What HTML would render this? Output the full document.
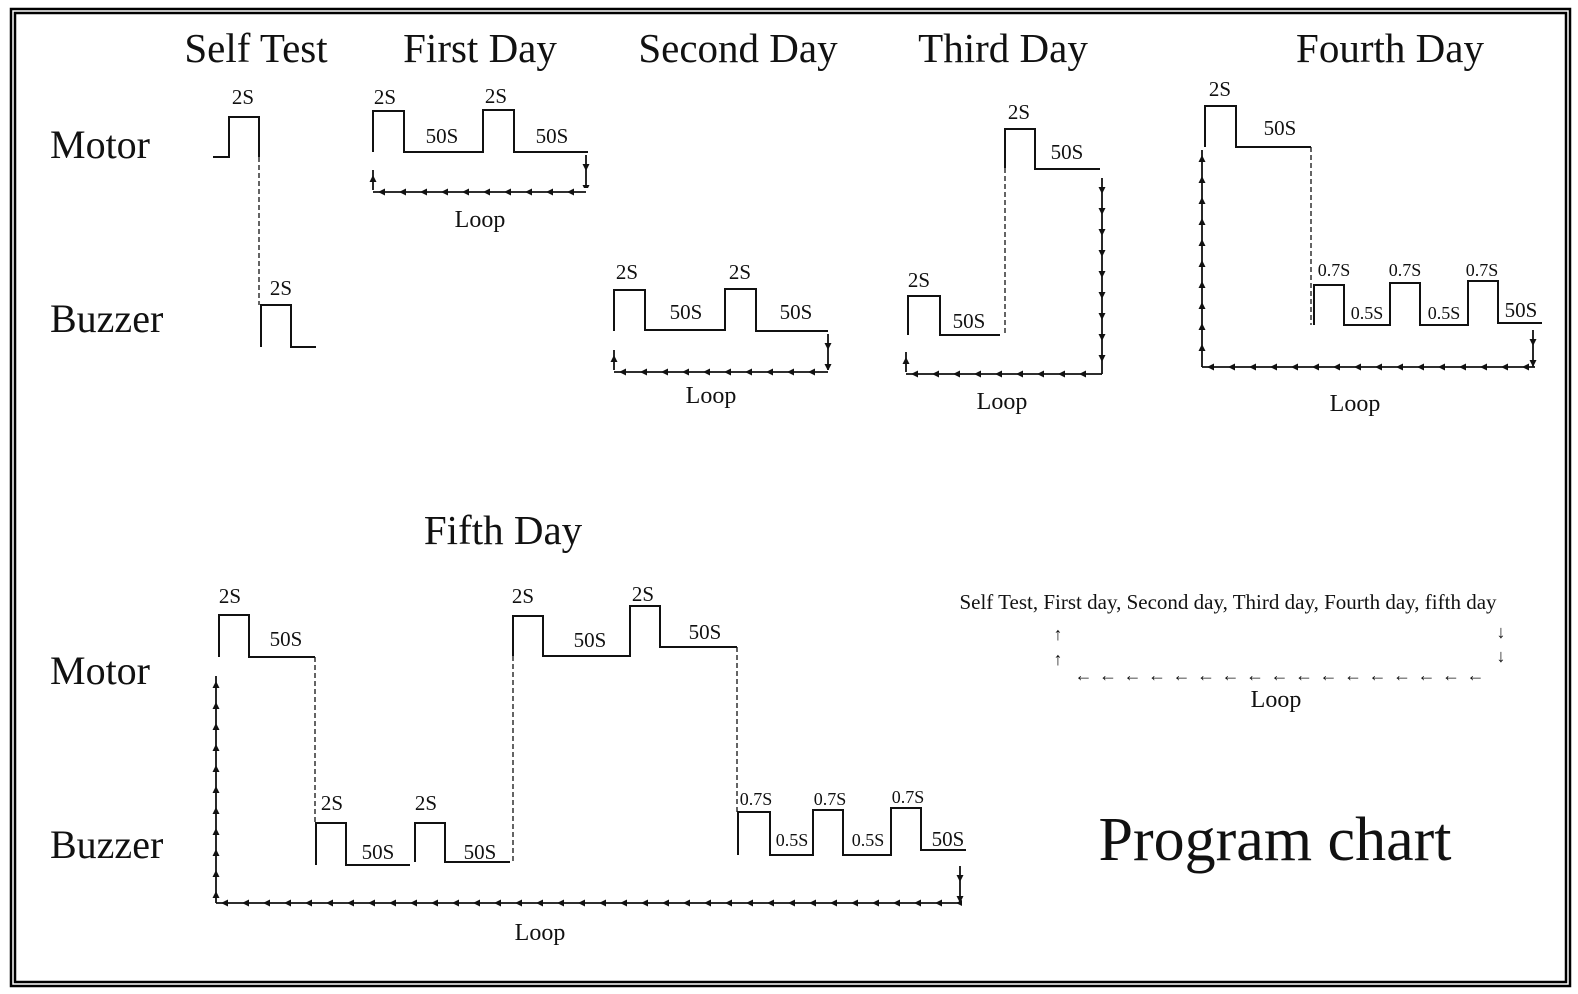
<!DOCTYPE html>
<html><head><meta charset="utf-8"><style>
html,body{margin:0;padding:0;background:#fff}
svg{display:block}
text{font-family:"Liberation Serif",serif;fill:#111}
.t{font-size:41px;text-anchor:middle}
.r{font-size:40px}
.s{font-size:21px;text-anchor:middle}
.x{font-size:18px;text-anchor:middle}
.l{font-size:24px;text-anchor:middle}
</style></head><body>
<svg width="1578" height="994" viewBox="0 0 1578 994" xmlns="http://www.w3.org/2000/svg">
<defs>
<pattern id="la" patternUnits="userSpaceOnUse" x="0" y="-5" width="21" height="10">
<line x1="0" y1="5" x2="21" y2="5" stroke="#111" stroke-width="1.8"/>
<polygon points="5,5 12,1.5 12,8.5" fill="#111"/>
</pattern>
<pattern id="ua" patternUnits="userSpaceOnUse" x="-5" y="0" width="10" height="21">
<line x1="5" y1="0" x2="5" y2="21" stroke="#111" stroke-width="1.8"/>
<polygon points="5,5 1.5,12 8.5,12" fill="#111"/>
</pattern>
<pattern id="da" patternUnits="userSpaceOnUse" x="-5" y="0" width="10" height="21">
<line x1="5" y1="0" x2="5" y2="21" stroke="#111" stroke-width="1.8"/>
<polygon points="5,16 1.5,9 8.5,9" fill="#111"/>
</pattern>
</defs>
<rect x="11" y="9" width="1559" height="977" fill="none" stroke="#000" stroke-width="2.5"/>
<rect x="15" y="13" width="1551" height="969" fill="none" stroke="#000" stroke-width="2.5"/>

<g fill="none" stroke="#111" stroke-width="2">
<polyline points="213,157 229,157 229,117 259,117 259,157"/>
<line x1="259" y1="157" x2="259" y2="305" stroke-dasharray="5,3" stroke-width="1.3"/>
<polyline points="261,347 261,305 291,305 291,347 316,347"/>
<polyline points="373,152 373,111 404,111 404,152 483,152 483,110 514,110 514,152 588,152"/>
<polyline points="614,331 614,290 645,290 645,330 725,330 725,289 756,289 756,331 828,331"/>
<polyline points="908,335 908,296 940,296 940,335 1000,335"/>
<line x1="1005" y1="168" x2="1005" y2="333" stroke-dasharray="5,3" stroke-width="1.3"/>
<polyline points="1005,168 1005,129 1035,129 1035,169 1100,169"/>
<polyline points="1205,147 1205,106 1236,106 1236,147 1311,147"/>
<line x1="1311" y1="147" x2="1311" y2="325" stroke-dasharray="5,3" stroke-width="1.3"/>
<polyline points="1314,325 1314,285 1344,285 1344,325 1390,325 1390,283 1420,283 1420,325 1468,325 1468,281 1498,281 1498,323 1542,323"/>
<polyline points="219,657 219,615 249,615 249,657 315,657"/>
<line x1="315" y1="657" x2="315" y2="823" stroke-dasharray="5,3" stroke-width="1.3"/>
<polyline points="316,865 316,823 346,823 346,865 410,865"/>
<polyline points="415,862 415,823 445,823 445,862 510,862"/>
<line x1="513" y1="656" x2="513" y2="862" stroke-dasharray="5,3" stroke-width="1.3"/>
<polyline points="513,656 513,616 543,616 543,656 630,656 630,606 660,606 660,647 737,647"/>
<line x1="737" y1="647" x2="737" y2="812" stroke-dasharray="5,3" stroke-width="1.3"/>
<polyline points="738,855 738,812 770,812 770,855 813,855 813,810 843,810 843,855 891,855 891,808 921,808 921,850 966,850"/>
</g>

<!-- loops -->
<g transform="translate(373,192)"><rect x="0" y="-5" width="213" height="10" fill="url(#la)"/></g>
<g transform="translate(373,170)"><rect x="-5" y="0" width="10" height="20" fill="url(#ua)"/></g>
<g transform="translate(586,155)"><rect x="-5" y="0" width="10" height="33" fill="url(#da)"/></g>

<g transform="translate(614,372)"><rect x="0" y="-5" width="214" height="10" fill="url(#la)"/></g>
<g transform="translate(614,350)"><rect x="-5" y="0" width="10" height="20" fill="url(#ua)"/></g>
<g transform="translate(828,334)"><rect x="-5" y="0" width="10" height="36" fill="url(#da)"/></g>

<g transform="translate(906,374)"><rect x="0" y="-5" width="196" height="10" fill="url(#la)"/></g>
<g transform="translate(906,352)"><rect x="-5" y="0" width="10" height="20" fill="url(#ua)"/></g>
<g transform="translate(1102,178)"><rect x="-5" y="0" width="10" height="196" fill="url(#da)"/></g>

<g transform="translate(1202,367)"><rect x="0" y="-5" width="333" height="10" fill="url(#la)"/></g>
<g transform="translate(1202,150)"><rect x="-5" y="0" width="10" height="217" fill="url(#ua)"/></g>
<g transform="translate(1533,330)"><rect x="-5" y="0" width="10" height="37" fill="url(#da)"/></g>

<g transform="translate(216,903)"><rect x="0" y="-5" width="746" height="10" fill="url(#la)"/></g>
<g transform="translate(216,676)"><rect x="-5" y="0" width="10" height="227" fill="url(#ua)"/></g>
<g transform="translate(960,866)"><rect x="-5" y="0" width="10" height="37" fill="url(#da)"/></g>

<text class="t" x="256" y="62">Self Test</text>
<text class="t" x="480" y="62">First Day</text>
<text class="t" x="738" y="62">Second Day</text>
<text class="t" x="1003" y="62">Third Day</text>
<text class="t" x="1390" y="62">Fourth Day</text>
<text class="t" x="503" y="544">Fifth Day</text>
<text class="r" x="50" y="158">Motor</text>
<text class="r" x="50" y="332">Buzzer</text>
<text class="r" x="50" y="684">Motor</text>
<text class="r" x="50" y="858">Buzzer</text>

<text class="s" x="243" y="104">2S</text>
<text class="s" x="281" y="295">2S</text>
<text class="s" x="385" y="104">2S</text>
<text class="s" x="442" y="143">50S</text>
<text class="s" x="496" y="103">2S</text>
<text class="s" x="552" y="143">50S</text>
<text class="l" x="480" y="227">Loop</text>

<text class="s" x="627" y="279">2S</text>
<text class="s" x="686" y="319">50S</text>
<text class="s" x="740" y="279">2S</text>
<text class="s" x="796" y="319">50S</text>
<text class="l" x="711" y="403">Loop</text>

<text class="s" x="919" y="287">2S</text>
<text class="s" x="969" y="328">50S</text>
<text class="s" x="1019" y="119">2S</text>
<text class="s" x="1067" y="159">50S</text>
<text class="l" x="1002" y="409">Loop</text>

<text class="s" x="1220" y="96">2S</text>
<text class="s" x="1280" y="135">50S</text>
<text class="x" x="1334" y="276">0.7S</text>
<text class="x" x="1367" y="319">0.5S</text>
<text class="x" x="1405" y="276">0.7S</text>
<text class="x" x="1444" y="319">0.5S</text>
<text class="x" x="1482" y="276">0.7S</text>
<text class="s" x="1521" y="317">50S</text>
<text class="l" x="1355" y="411">Loop</text>

<text class="s" x="230" y="603">2S</text>
<text class="s" x="286" y="646">50S</text>
<text class="s" x="332" y="810">2S</text>
<text class="s" x="378" y="859">50S</text>
<text class="s" x="426" y="810">2S</text>
<text class="s" x="480" y="859">50S</text>
<text class="s" x="523" y="603">2S</text>
<text class="s" x="590" y="647">50S</text>
<text class="s" x="643" y="601">2S</text>
<text class="s" x="705" y="639">50S</text>
<text class="x" x="756" y="805">0.7S</text>
<text class="x" x="792" y="846">0.5S</text>
<text class="x" x="830" y="805">0.7S</text>
<text class="x" x="868" y="846">0.5S</text>
<text class="x" x="908" y="803">0.7S</text>
<text class="s" x="948" y="846">50S</text>
<text class="l" x="540" y="940">Loop</text>

<text x="1228" y="609" style="font-size:21px;text-anchor:middle">Self Test, First day, Second day, Third day, Fourth day, fifth day</text>
<text x="1058" y="640" style="font-size:18px;text-anchor:middle">↑</text>
<text x="1058" y="665" style="font-size:18px;text-anchor:middle">↑</text>
<text x="1501" y="638" style="font-size:18px;text-anchor:middle">↓</text>
<text x="1501" y="662" style="font-size:18px;text-anchor:middle">↓</text>
<text x="1280" y="681" style="font-size:18px;text-anchor:middle;letter-spacing:1px">← ← ← ← ← ← ← ← ← ← ← ← ← ← ← ← ←</text>
<text class="l" x="1276" y="707">Loop</text>
<text x="1275" y="860" style="font-size:62px;text-anchor:middle">Program chart</text>
</svg>
</body></html>
